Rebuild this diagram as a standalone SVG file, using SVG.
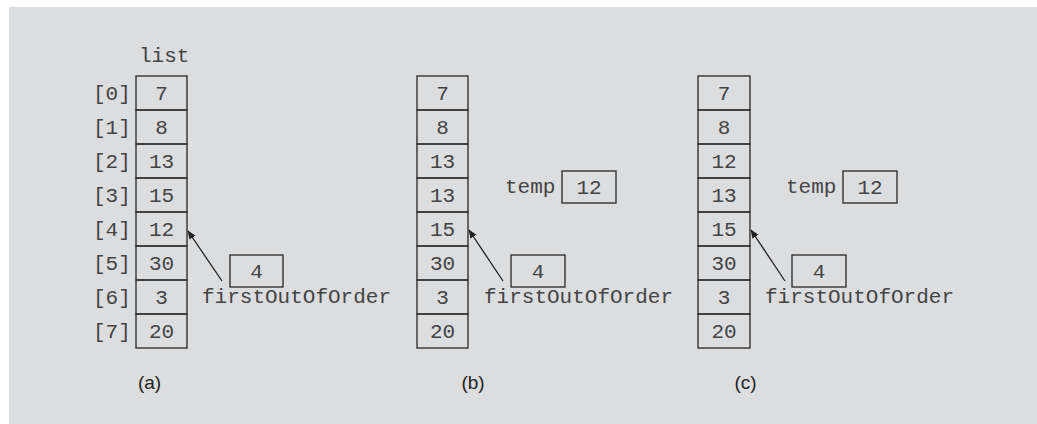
<svg xmlns="http://www.w3.org/2000/svg" width="1037" height="424" viewBox="0 0 1037 424">
<defs>
<style>
.m{font-family:"Liberation Mono","Courier New",monospace;font-size:21px;fill:#444}
.c{text-anchor:middle}
.s{font-family:"Liberation Sans",Arial,sans-serif;font-size:19px;fill:#222;text-anchor:middle}
.b{fill:none;stroke:#333;stroke-width:1.4}
.ln{stroke:#222;stroke-width:1.3;fill:none}
</style>
<marker id="ah" viewBox="0 0 10 10" refX="9" refY="5" markerWidth="9" markerHeight="9" markerUnits="userSpaceOnUse" orient="auto">
<path d="M0,1 L10,5 L0,9 Z" fill="#222"/>
</marker>
</defs>
<rect x="0" y="0" width="1037" height="424" fill="#ffffff"/>
<rect x="9" y="7" width="1028" height="417" fill="#dcdddf"/>

<g id="array-a">
<text class="m" x="139" y="62">list</text>
<rect class="b" x="136" y="76" width="51" height="34"/>
<rect class="b" x="136" y="110" width="51" height="34"/>
<rect class="b" x="136" y="144" width="51" height="34"/>
<rect class="b" x="136" y="178" width="51" height="34"/>
<rect class="b" x="136" y="212" width="51" height="34"/>
<rect class="b" x="136" y="246" width="51" height="34"/>
<rect class="b" x="136" y="280" width="51" height="34"/>
<rect class="b" x="136" y="314" width="51" height="34"/>
<text class="m c" x="161.5" y="100">7</text>
<text class="m c" x="161.5" y="134">8</text>
<text class="m c" x="161.5" y="168">13</text>
<text class="m c" x="161.5" y="202">15</text>
<text class="m c" x="161.5" y="236">12</text>
<text class="m c" x="161.5" y="270">30</text>
<text class="m c" x="161.5" y="304">3</text>
<text class="m c" x="161.5" y="338">20</text>
<text class="m" x="93" y="100">[0]</text>
<text class="m" x="93" y="134">[1]</text>
<text class="m" x="93" y="168">[2]</text>
<text class="m" x="93" y="202">[3]</text>
<text class="m" x="93" y="236">[4]</text>
<text class="m" x="93" y="270">[5]</text>
<text class="m" x="93" y="304">[6]</text>
<text class="m" x="93" y="338">[7]</text>
</g>
<g id="index-a">
<rect class="b" x="230" y="255" width="53" height="32"/>
<text class="m c" x="256.5" y="278">4</text>
<text class="m" x="202" y="303">firstOutOfOrder</text>
</g>
<g id="label-a"><text class="s" x="149.5" y="389">(a)</text></g>

<g id="array-b">
<rect class="b" x="417" y="76" width="51" height="34"/>
<rect class="b" x="417" y="110" width="51" height="34"/>
<rect class="b" x="417" y="144" width="51" height="34"/>
<rect class="b" x="417" y="178" width="51" height="34"/>
<rect class="b" x="417" y="212" width="51" height="34"/>
<rect class="b" x="417" y="246" width="51" height="34"/>
<rect class="b" x="417" y="280" width="51" height="34"/>
<rect class="b" x="417" y="314" width="51" height="34"/>
<text class="m c" x="442.5" y="100">7</text>
<text class="m c" x="442.5" y="134">8</text>
<text class="m c" x="442.5" y="168">13</text>
<text class="m c" x="442.5" y="202">13</text>
<text class="m c" x="442.5" y="236">15</text>
<text class="m c" x="442.5" y="270">30</text>
<text class="m c" x="442.5" y="304">3</text>
<text class="m c" x="442.5" y="338">20</text>
</g>
<g id="temp-b">
<text class="m" x="505" y="193">temp</text>
<rect class="b" x="562" y="171" width="54" height="32"/>
<text class="m c" x="589" y="194">12</text>
</g>
<g id="index-b">
<rect class="b" x="511" y="255" width="54" height="32"/>
<text class="m c" x="538" y="278">4</text>
<text class="m" x="484" y="303">firstOutOfOrder</text>
</g>
<g id="label-b"><text class="s" x="473" y="389">(b)</text></g>

<g id="array-c">
<rect class="b" x="698" y="76" width="52" height="34"/>
<rect class="b" x="698" y="110" width="52" height="34"/>
<rect class="b" x="698" y="144" width="52" height="34"/>
<rect class="b" x="698" y="178" width="52" height="34"/>
<rect class="b" x="698" y="212" width="52" height="34"/>
<rect class="b" x="698" y="246" width="52" height="34"/>
<rect class="b" x="698" y="280" width="52" height="34"/>
<rect class="b" x="698" y="314" width="52" height="34"/>
<text class="m c" x="724" y="100">7</text>
<text class="m c" x="724" y="134">8</text>
<text class="m c" x="724" y="168">12</text>
<text class="m c" x="724" y="202">13</text>
<text class="m c" x="724" y="236">15</text>
<text class="m c" x="724" y="270">30</text>
<text class="m c" x="724" y="304">3</text>
<text class="m c" x="724" y="338">20</text>
</g>
<g id="temp-c">
<text class="m" x="786" y="193">temp</text>
<rect class="b" x="843" y="171" width="54" height="32"/>
<text class="m c" x="870" y="194">12</text>
</g>
<g id="index-c">
<rect class="b" x="792" y="255" width="54" height="32"/>
<text class="m c" x="819" y="278">4</text>
<text class="m" x="765" y="303">firstOutOfOrder</text>
</g>
<g id="label-c"><text class="s" x="745.5" y="389">(c)</text></g>

<g id="connectors">
<line class="ln" x1="222" y1="281" x2="188" y2="231" marker-end="url(#ah)"/>
<line class="ln" x1="503" y1="281" x2="469" y2="230" marker-end="url(#ah)"/>
<line class="ln" x1="785" y1="281" x2="751" y2="230" marker-end="url(#ah)"/>
</g>
</svg>
